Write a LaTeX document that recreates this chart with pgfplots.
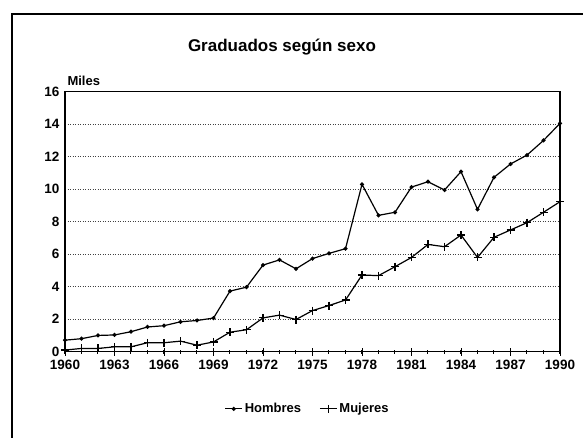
\documentclass[border=0pt]{standalone}
\usepackage{fontspec}
\setmainfont{Liberation Sans}
\usepackage{pgfplots}
\pgfplotsset{compat=1.18}
\begin{document}
\begin{tikzpicture}[x=1pt,y=1pt]
\useasboundingbox (0,0) rectangle (583,438);
\draw[line width=2pt] (12,-10) -- (12,424) -- (600,424);
\node[font=\fontsize{17}{19}\selectfont\bfseries] at (282,391) {Graduados según sexo};
\node[font=\fontsize{13}{15}\selectfont\bfseries, anchor=base west] at (64,352) {Miles};
\begin{axis}[
  at={(65pt,86.3pt)}, anchor=south west,
  scale only axis, width=495pt, height=260pt,
  xmin=1960, xmax=1990, ymin=0, ymax=16,
  xtick={1960,1963,...,1990},
  minor xtick={1960,...,1990},
  ytick={0,2,...,16},
  x tick label style={/pgf/number format/1000 sep={}},
  /pgf/number format/assume math mode=true,
  tick label style={font=\fontsize{13.5}{15}\selectfont\bfseries},
  xticklabel style={yshift=-1pt},
  yticklabel style={xshift=2pt},
  tick align=center,
  major tick length=8pt, minor tick length=4pt,
  xtick pos=bottom,
  ytick style={draw=none},
  ymajorgrids,
  grid style={dash pattern=on 1pt off 1.5pt, line width=1pt, black!75},
  axis line style={line width=1.3pt},
  every tick/.style={line width=1pt, black},
  legend style={at={(0.49,-0.22)}, anchor=center, draw=none, fill=none, legend columns=2,
    font=\fontsize{13}{15}\selectfont\bfseries, /tikz/every even column/.append style={column sep=16pt}},
  legend cell align=left,
]
\addplot[black, line width=1.2pt, mark=*, mark size=1.4pt] coordinates {
(1960,0.71) (1961,0.80) (1962,1.00) (1963,1.03) (1964,1.23) (1965,1.52) (1966,1.60)
(1967,1.84) (1968,1.92) (1969,2.07) (1970,3.73) (1971,3.97) (1972,5.33) (1973,5.65)
(1974,5.10) (1975,5.73) (1976,6.05) (1977,6.34) (1978,10.30) (1979,8.39) (1980,8.58)
(1981,10.13) (1982,10.46) (1983,9.95) (1984,11.08) (1985,8.76) (1986,10.73) (1987,11.55)
(1988,12.10) (1989,13.00) (1990,14.05)};
\addlegendentry{Hombres}
\addplot[black, line width=1.2pt, mark=+, mark size=4pt, mark options={line width=1.2pt}] coordinates {
(1960,0.10) (1961,0.20) (1962,0.20) (1963,0.30) (1964,0.30) (1965,0.55) (1966,0.55)
(1967,0.65) (1968,0.40) (1969,0.60) (1970,1.20) (1971,1.35) (1972,2.08) (1973,2.25)
(1974,1.98) (1975,2.53) (1976,2.84) (1977,3.18) (1978,4.72) (1979,4.68) (1980,5.23)
(1981,5.80) (1982,6.60) (1983,6.46) (1984,7.18) (1985,5.80) (1986,7.04) (1987,7.49)
(1988,7.94) (1989,8.58) (1990,9.23)};
\addlegendentry{Mujeres}
\end{axis}
\end{tikzpicture}
\end{document}
